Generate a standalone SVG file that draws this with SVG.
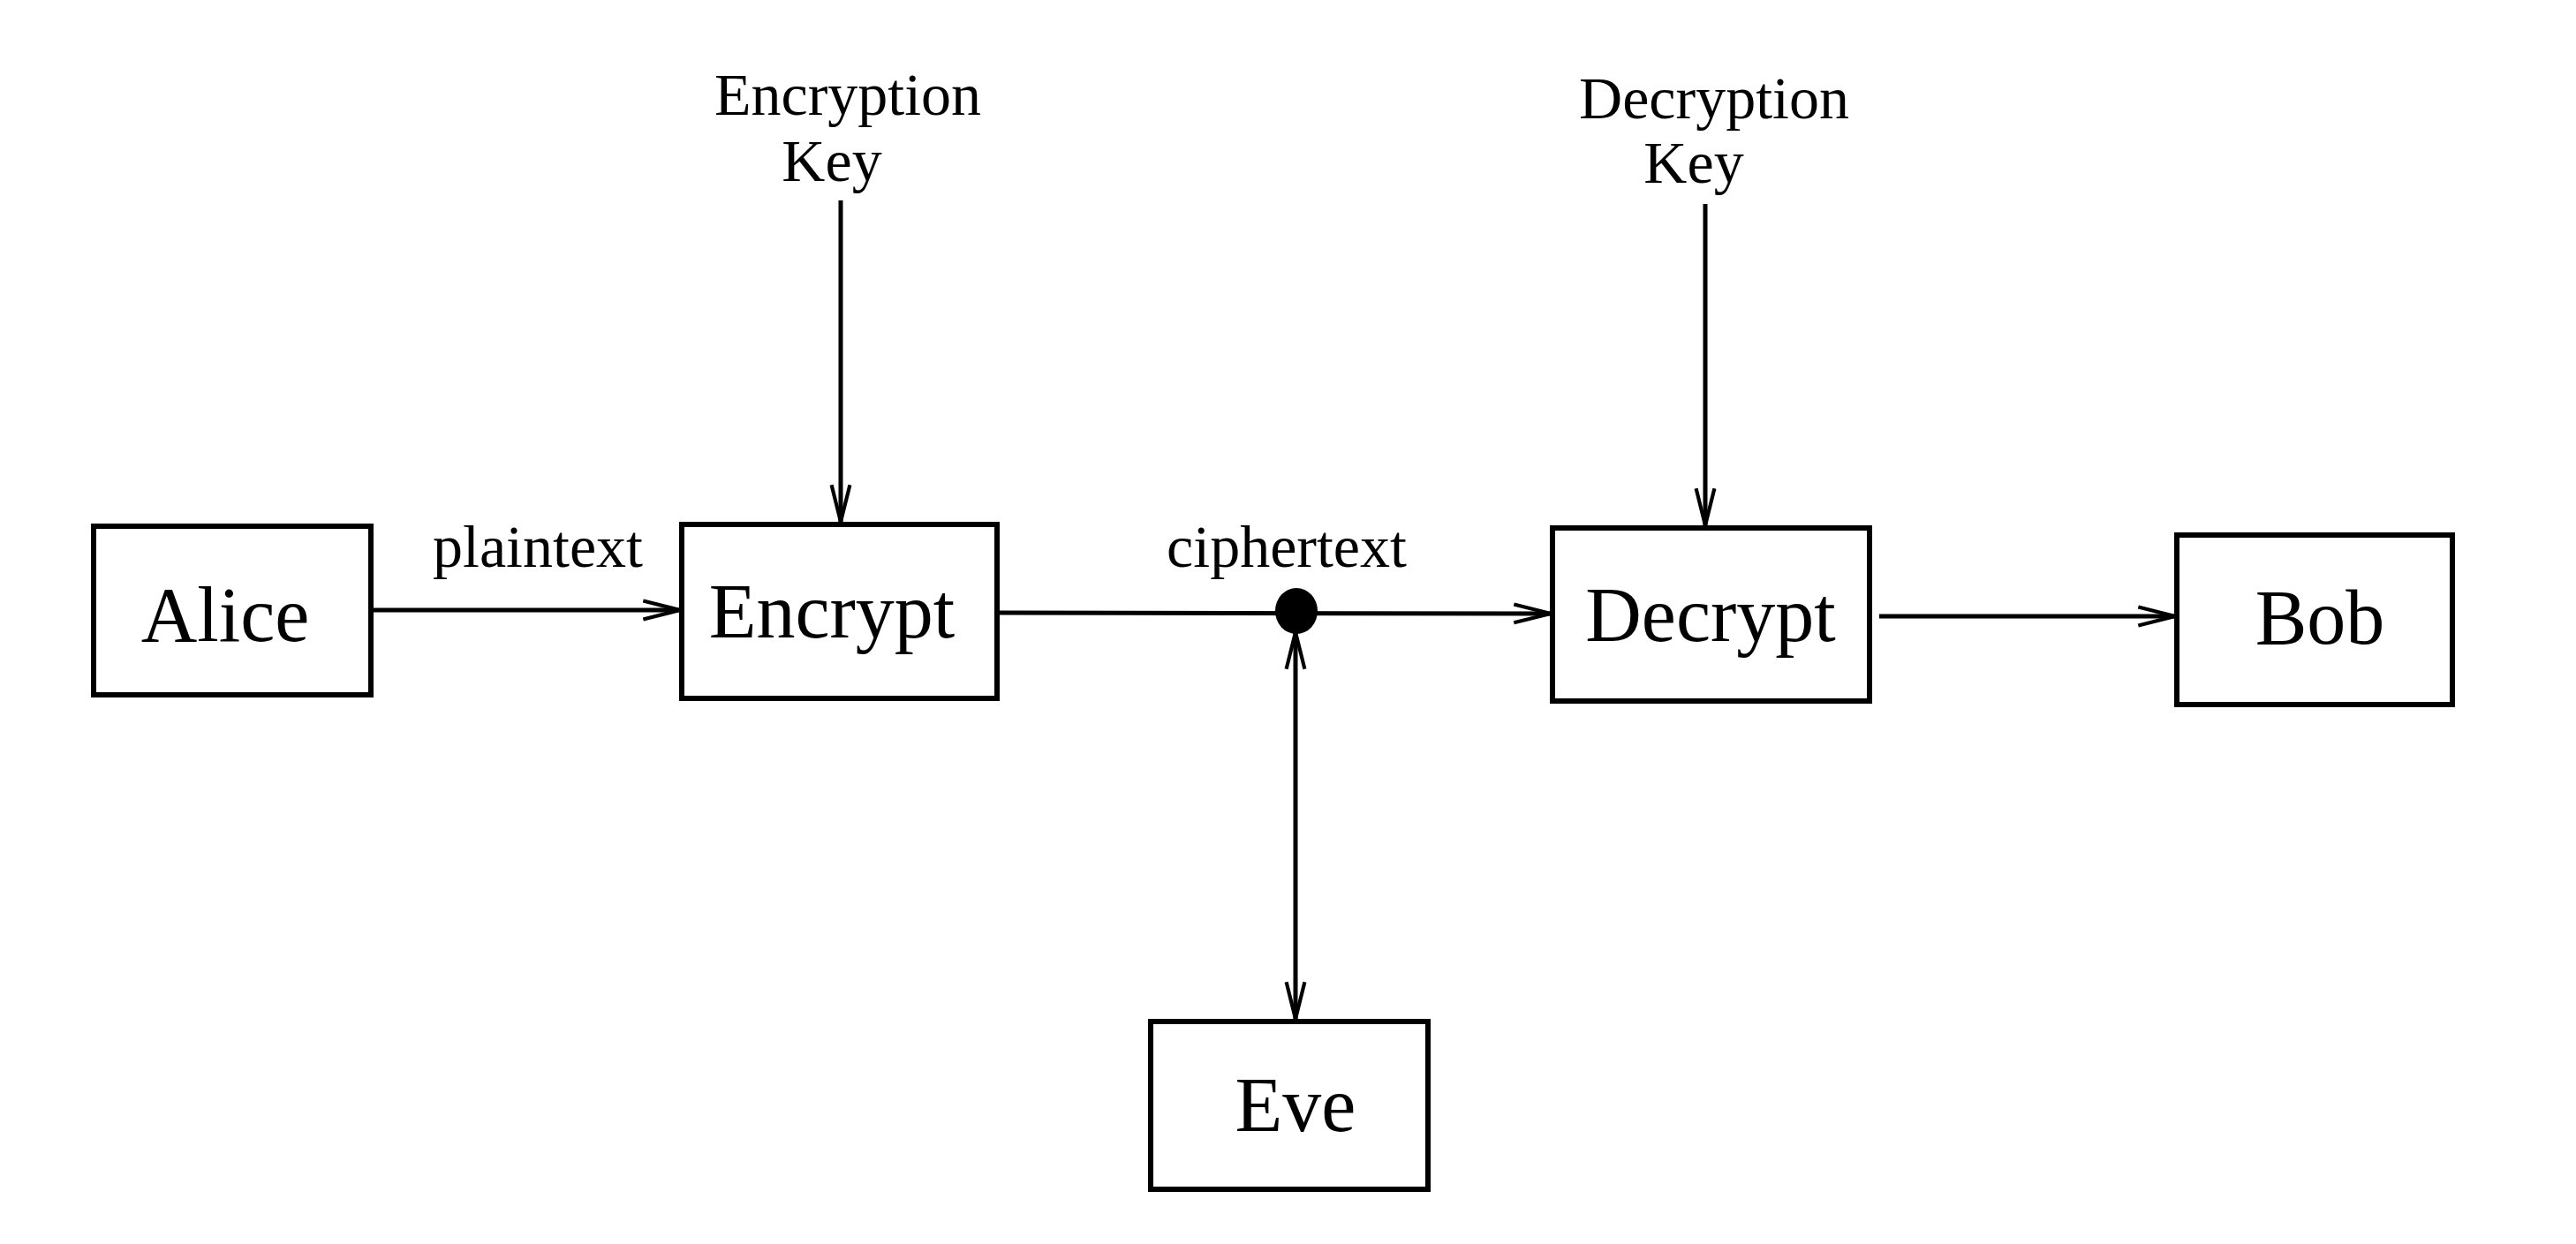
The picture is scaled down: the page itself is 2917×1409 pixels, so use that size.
<svg xmlns="http://www.w3.org/2000/svg" width="2917" height="1409" viewBox="0 0 2917 1409">
<style>
.box{fill:#fff;stroke:#000;stroke-width:6}
.big{font-family:"Liberation Serif","Times New Roman",serif;font-size:88px;fill:#000;text-anchor:middle}
.lab{font-family:"Liberation Serif","Times New Roman",serif;font-size:68px;fill:#000;text-anchor:middle}
.ln{stroke:#000;stroke-width:5;fill:none}
</style>
<defs>
<marker id="arr" markerUnits="userSpaceOnUse" markerWidth="50" markerHeight="30" viewBox="-44 -12 48 24" refX="0" refY="0" orient="auto-start-reverse">
<path d="M -40 -10 L 0 0 L -40 10" fill="none" stroke="#000" stroke-width="4"/>
</marker>
</defs>
<rect width="2917" height="1409" fill="#fff"/>
<g id="connectors">
<line class="ln" x1="420" y1="691" x2="770" y2="691" marker-end="url(#arr)"/>
<line class="ln" x1="952" y1="227" x2="952" y2="591" marker-end="url(#arr)"/>
<line class="ln" x1="1931" y1="231" x2="1931" y2="595" marker-end="url(#arr)"/>
<line class="ln" x1="1129" y1="694" x2="1756" y2="695" marker-end="url(#arr)"/>
<line class="ln" x1="2128" y1="698" x2="2463" y2="698" marker-end="url(#arr)"/>
<line class="ln" x1="1467" y1="716" x2="1467" y2="1154" marker-start="url(#arr)" marker-end="url(#arr)"/>
<ellipse cx="1468" cy="692" rx="24" ry="26" fill="#000"/>
<text class="lab" x="609" y="642">plaintext</text>
<text class="lab" x="1457" y="642">ciphertext</text>
</g>
<g id="encryption-key">
<text class="lab" x="960" y="130">Encryption</text>
<text class="lab" x="942" y="205">Key</text>
</g>
<g id="decryption-key">
<text class="lab" x="1941" y="134">Decryption</text>
<text class="lab" x="1918" y="207">Key</text>
</g>
<g id="alice">
<rect class="box" x="106" y="596" width="314" height="191"/>
<text class="big" x="255" y="726">Alice</text>
</g>
<g id="encrypt">
<rect class="box" x="772" y="594" width="357" height="197"/>
<text class="big" x="942" y="722">Encrypt</text>
</g>
<g id="decrypt">
<rect class="box" x="1758" y="598" width="359" height="196"/>
<text class="big" x="1937" y="726">Decrypt</text>
</g>
<g id="bob">
<rect class="box" x="2465" y="606" width="312" height="192"/>
<text class="big" x="2627" y="729">Bob</text>
</g>
<g id="eve">
<rect class="box" x="1303" y="1157" width="314" height="190"/>
<text class="big" x="1467" y="1281">Eve</text>
</g>
</svg>
